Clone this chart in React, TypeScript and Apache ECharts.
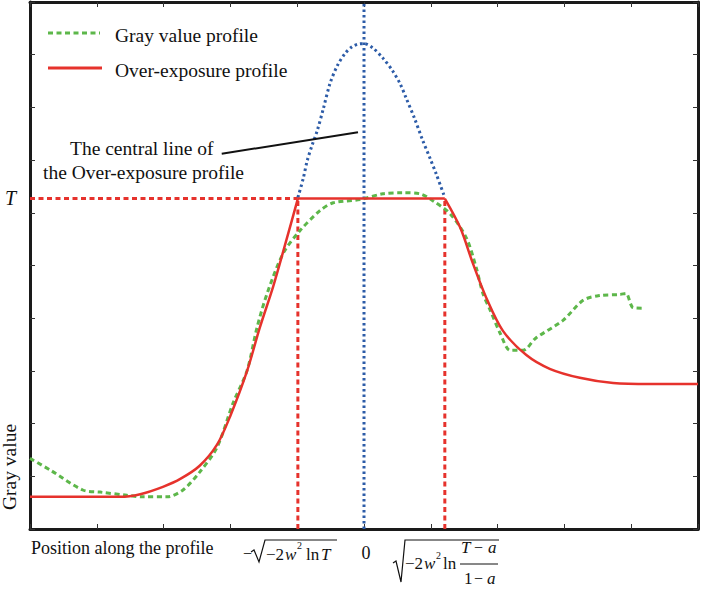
import React, { useEffect, useRef } from "react";
import * as echarts from "echarts";

// ---- data (x: position in tick units, 0 = profile centre; y: gray value in tick units) ----
const grayProfile: [number, number][] = [
  [-5.0, 1.34], [-4.7, 1.12], [-4.21, 0.74], [-3.95, 0.7], [-3.55, 0.64], [-3.31, 0.61],
  [-2.95, 0.61], [-2.71, 0.74], [-2.46, 1.08], [-2.2, 1.55], [-1.96, 2.39], [-1.75, 3.01],
  [-1.6, 3.83], [-1.45, 4.47], [-1.21, 5.23], [-0.96, 5.66], [-0.66, 6.04], [-0.46, 6.19],
  [-0.06, 6.25], [0.28, 6.36], [0.58, 6.38], [0.84, 6.36], [1.03, 6.23], [1.29, 5.98],
  [1.53, 5.53], [1.68, 4.96], [1.78, 4.47], [1.89, 4.15], [2.04, 3.71], [2.19, 3.39],
  [2.38, 3.39], [2.57, 3.62], [2.98, 3.96], [3.28, 4.34], [3.53, 4.43], [3.83, 4.45],
  [3.92, 4.47], [4.03, 4.2], [4.18, 4.19],
];

// over-exposure profile: rising flank, clipped plateau at T, falling flank
const overExposureRise: [number, number][] = [
  [-5.0, 0.61], [-3.65, 0.61], [-3.35, 0.66], [-3.01, 0.8], [-2.75, 0.95], [-2.46, 1.2],
  [-2.2, 1.6], [-2.0, 2.15], [-1.75, 3.0], [-1.56, 3.82], [-1.36, 4.6], [-1.18, 5.4],
  [-0.99, 6.27],
];
const overExposurePlateau: [number, number][] = [[-0.99, 6.27], [1.21, 6.27]];
const overExposureFall: [number, number][] = [
  [1.21, 6.27], [1.44, 5.72], [1.63, 5.04], [1.83, 4.39], [2.08, 3.76], [2.43, 3.3],
  [2.78, 3.04], [3.23, 2.87], [3.73, 2.77], [4.28, 2.75], [5.0, 2.75],
];

const centralGauss: [number, number][] = [
  [-0.99, 6.29], [-0.91, 6.65], [-0.85, 6.99], [-0.78, 7.27], [-0.7, 7.56], [-0.61, 7.97],
  [-0.51, 8.45], [-0.4, 8.79], [-0.28, 9.03], [-0.18, 9.15], [-0.09, 9.2], [0, 9.21],
  [0.13, 9.13], [0.28, 8.94], [0.43, 8.69], [0.54, 8.45], [0.63, 8.18], [0.76, 7.78],
  [0.88, 7.37], [0.99, 7.03], [1.08, 6.74], [1.21, 6.29],
];

const T_LEVEL = 6.27;
const X_LEFT = -0.99;
const X_RIGHT = 1.21;
const annotationLine: [number, number][] = [[-2.13, 7.12], [-0.09, 7.53]];

const xTicks = { min: -5, max: 5, interval: 1 };
const yTicks = { min: 0, max: 10, interval: 1 };

const GREEN = "#5db74a";
const RED = "#e6322c";
const BLUE = "#2d5ca8";
const SERIF = "'Liberation Serif', 'Times New Roman', serif";

function txt(
  text: string,
  x: number,
  y: number,
  size: number,
  opts: { italic?: boolean; align?: string; rotation?: number } = {}
): any {
  const align = opts.align || "left";
  return {
    type: "text",
    x,
    y,
    rotation: opts.rotation || 0,
    style: {
      text,
      font: `${opts.italic ? "italic " : ""}${size}px ${SERIF}`,
      fill: "#111",
      align,
      verticalAlign: "middle",
      textAlign: align,
      textVerticalAlign: "middle",
    },
  };
}

export default function App() {
  const ref = useRef<HTMLDivElement>(null);

  useEffect(() => {
    if (!ref.current) return;
    const chart = echarts.init(ref.current, undefined, { renderer: "svg" });

    const axisCommon = {
      type: "value" as const,
      axisLine: { show: true, onZero: false, lineStyle: { color: "#1a1a1a", width: 3 } },
      axisTick: { show: true, inside: true, length: 5, lineStyle: { color: "#333", width: 1 } },
      axisLabel: { show: false },
      splitLine: { show: false },
    };

    const lineSeries = (
      name: string,
      data: [number, number][],
      color: string,
      width: number,
      type: any,
      smooth: number | boolean = false,
      z = 2
    ) => ({
      name,
      type: "line",
      data,
      symbol: "none",
      smooth,
      z,
      lineStyle: { color, width, type, cap: "butt" },
      silent: true,
    });

    const option: any = {
      animation: false,
      backgroundColor: "#fff",
      grid: { left: 30, right: 28, top: 2, bottom: 60, containLabel: false },
      xAxis: [
        { ...axisCommon, ...xTicks, position: "bottom" },
        { ...axisCommon, ...xTicks, position: "top" },
      ],
      yAxis: [
        { ...axisCommon, ...yTicks, position: "left" },
        { ...axisCommon, ...yTicks, position: "right" },
      ],
      series: [
        lineSeries("T level", [[xTicks.min, T_LEVEL], [X_LEFT, T_LEVEL]], RED, 3, [5, 3.5]),
        lineSeries("left bound", [[X_LEFT, yTicks.min], [X_LEFT, T_LEVEL]], RED, 3, [5, 3.5]),
        lineSeries("right bound", [[X_RIGHT, yTicks.min], [X_RIGHT, T_LEVEL]], RED, 3, [5, 3.5]),
        lineSeries("centre", [[0, yTicks.min], [0, yTicks.max]], BLUE, 3, [2.5, 3]),
        lineSeries("central Gaussian", centralGauss, BLUE, 3, [2.5, 3], 0.3),
        lineSeries("Gray value profile", grayProfile, GREEN, 3, [5, 3.5], 0.3, 3),
        lineSeries("Over-exposure rise", overExposureRise, RED, 2.5, "solid", 0.3, 4),
        lineSeries("Over-exposure plateau", overExposurePlateau, RED, 2.5, "solid", false, 4),
        lineSeries("Over-exposure fall", overExposureFall, RED, 2.5, "solid", 0.3, 4),
        lineSeries("annotation", annotationLine, "#111", 2, "solid"),
      ],
      graphic: [
        // legend
        { type: "line", shape: { x1: 48, y1: 33, x2: 100, y2: 33 }, style: { stroke: GREEN, lineWidth: 3, lineDash: [5, 3.5] } },
        txt("Gray value profile", 115, 35, 19.5),
        { type: "line", shape: { x1: 48, y1: 68, x2: 102, y2: 68 }, style: { stroke: RED, lineWidth: 3 } },
        txt("Over-exposure profile", 115, 70, 19.5),
        // annotation
        txt("The central line of", 70, 148, 19.5),
        txt("the Over-exposure profile", 43, 172, 19.5),
        // axis texts
        txt("T", 5, 198, 20, { italic: true }),
        txt("Gray value", 9, 467, 19.5, { align: "center", rotation: Math.PI / 2 }),
        txt("Position along the profile", 31, 548, 18),
        txt("0", 366, 553, 18, { align: "center" }),
        // −sqrt(−2w² ln T)
        txt("−", 243, 553, 16),
        { type: "polyline", shape: { points: [[251, 552], [254, 550], [259, 562], [265, 540], [337, 540]] }, style: { stroke: "#111", lineWidth: 1.2, fill: null } },
        txt("−2", 266, 554, 17),
        txt("w", 285, 554, 17, { italic: true }),
        txt("2", 297, 545, 10),
        txt("ln", 306, 554, 17),
        txt("T", 321, 554, 17, { italic: true }),
        // sqrt(−2w² ln (T−a)/(1−a))
        { type: "polyline", shape: { points: [[393, 563], [396, 561], [401, 582], [405, 540], [499, 540]] }, style: { stroke: "#111", lineWidth: 1.2, fill: null } },
        txt("−2", 405, 563, 17),
        txt("w", 424, 563, 17, { italic: true }),
        txt("2", 436, 555, 10),
        txt("ln", 443, 563, 17),
        txt("T", 461, 547, 17, { italic: true }),
        txt("−", 474, 547, 16),
        txt("a", 488, 547, 17, { italic: true }),
        { type: "line", shape: { x1: 460, y1: 564, x2: 498, y2: 564 }, style: { stroke: "#111", lineWidth: 1 } },
        txt("1", 464, 578, 17),
        txt("−", 474, 578, 16),
        txt("a", 487, 578, 17, { italic: true }),
      ],
    };

    chart.setOption(option);
    return () => chart.dispose();
  }, []);

  return (
    <div
      ref={ref}
      style={{ position: "fixed", left: 0, top: 0, width: 726, height: 589, background: "#fff" }}
    />
  );
}
